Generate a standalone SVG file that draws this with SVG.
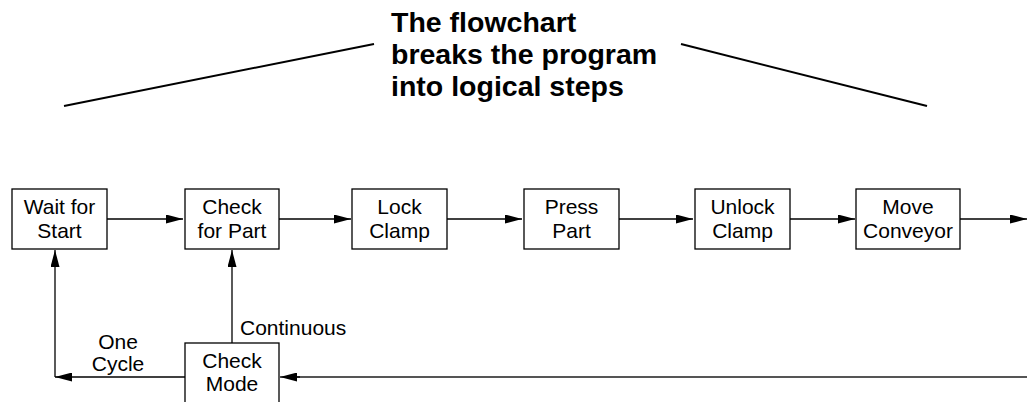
<svg xmlns="http://www.w3.org/2000/svg" width="1027" height="402" viewBox="0 0 1027 402">
<style>
.box{fill:#fff;stroke:#000;stroke-width:1.3}
.t{font-family:"Liberation Sans",Arial,sans-serif;font-size:21px;fill:#000;text-anchor:middle}
.l{font-family:"Liberation Sans",Arial,sans-serif;font-size:21px;fill:#000}
.h{font-family:"Liberation Sans",Arial,sans-serif;font-size:28.5px;font-weight:bold;fill:#000}
.c{stroke:#000;stroke-width:1.3;fill:none;marker-end:url(#ah)}
</style>
<defs>
<marker id="ah" markerWidth="17" markerHeight="9" refX="17" refY="4.5" orient="auto" markerUnits="userSpaceOnUse">
<path d="M0,0 L17,4.5 L0,9 Z" fill="#000"/>
</marker>
</defs>
<rect width="1027" height="402" fill="#fff"/>
<g id="title">
<text class="h" x="391" y="32">The flowchart</text>
<text class="h" x="391" y="64">breaks the program</text>
<text class="h" x="391" y="96">into logical steps</text>
<line x1="64" y1="106" x2="374" y2="44" stroke="#000" stroke-width="2"/>
<line x1="681" y1="44" x2="927" y2="106" stroke="#000" stroke-width="2"/>
</g>
<g id="connectors">
<line class="c" x1="107" y1="219" x2="183" y2="219"/>
<line class="c" x1="279" y1="219" x2="351" y2="219"/>
<line class="c" x1="447" y1="219" x2="522" y2="219"/>
<line class="c" x1="619" y1="219" x2="693" y2="219"/>
<line class="c" x1="790" y1="219" x2="855" y2="219"/>
<line class="c" x1="960" y1="219" x2="1027" y2="219"/>
<line class="c" x1="232" y1="343" x2="232" y2="250"/>
<line class="c" x1="185" y1="377" x2="55" y2="377"/>
<line class="c" x1="55" y1="377" x2="55" y2="250"/>
<line x1="1027" y1="377" x2="296" y2="377" stroke="#555" stroke-width="2"/>
<line class="c" x1="300" y1="377" x2="280" y2="377"/>
<text class="l" x="240" y="335">Continuous</text>
<text class="t" x="118" y="349">One</text>
<text class="t" x="118" y="371">Cycle</text>
</g>
<g id="wait">
<rect class="box" x="12" y="189" width="95" height="60"/>
<text class="t" x="59.5" y="214">Wait for</text>
<text class="t" x="59.5" y="238">Start</text>
</g>
<g id="checkpart">
<rect class="box" x="185" y="189" width="94" height="60"/>
<text class="t" x="232" y="214">Check</text>
<text class="t" x="232" y="238">for Part</text>
</g>
<g id="lock">
<rect class="box" x="352" y="189" width="95" height="60"/>
<text class="t" x="399.5" y="214">Lock</text>
<text class="t" x="399.5" y="238">Clamp</text>
</g>
<g id="press">
<rect class="box" x="524" y="189" width="95" height="60"/>
<text class="t" x="571.5" y="214">Press</text>
<text class="t" x="571.5" y="238">Part</text>
</g>
<g id="unlock">
<rect class="box" x="695" y="189" width="95" height="60"/>
<text class="t" x="742.5" y="214">Unlock</text>
<text class="t" x="742.5" y="238">Clamp</text>
</g>
<g id="move">
<rect class="box" x="856" y="189" width="104" height="60"/>
<text class="t" x="908" y="214">Move</text>
<text class="t" x="908" y="238">Conveyor</text>
</g>
<g id="checkmode">
<rect class="box" x="185" y="343" width="94" height="62"/>
<text class="t" x="232" y="368">Check</text>
<text class="t" x="232" y="391">Mode</text>
</g>
</svg>
